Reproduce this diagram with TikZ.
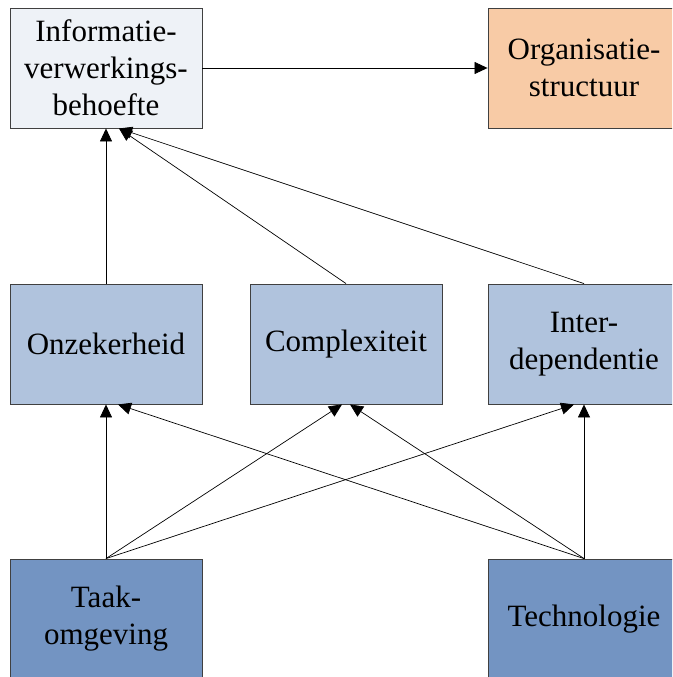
\documentclass[tikz,border=0pt]{standalone}
\usepackage{fontspec}
\setmainfont{Liberation Serif}
\usetikzlibrary{arrows.meta,calc}
\definecolor{infofill}{HTML}{EEF2F7}
\definecolor{orgfill}{HTML}{F8CBA6}
\definecolor{midfill}{HTML}{B0C3DD}
\definecolor{basefill}{HTML}{7394C2}
\definecolor{boxdraw}{HTML}{404040}
\tikzset{
  >={Triangle[length=13pt,width=12pt]},
  factorbox/.style={
    draw=boxdraw,
    line width=0.9pt,
    fill=white,
    align=center,
    minimum width=192pt,
    minimum height=120pt,
    inner sep=0pt,
    font=\fontsize{31}{37}\selectfont,
  },
  infobox/.style={factorbox, fill=infofill},
  orgbox/.style={factorbox, fill=orgfill},
  midbox/.style={factorbox, fill=midfill},
  basebox/.style={factorbox, fill=basefill},
  link/.style={->, line width=0.7pt, black},
}

\begin{document}
\begin{tikzpicture}[x=1pt, y=-1pt]
  \useasboundingbox (0,0) rectangle (672,677);
  \clip (0,0) rectangle (672,677);

  \node[infobox] (info) at (106, 68) {Informatie-\\verwerkings-\\behoefte};
  \node[orgbox] (org) at (584, 68) {Organisatie-\\structuur};
  \node[midbox] (onz) at (106, 344) {Onzekerheid};
  \node[midbox] (comp) at (346, 344) {Complexiteit};
  \node[midbox] (inter) at (584, 344) {Inter-\\dependentie};
  \node[basebox] (taak) at (106, 619) {Taak-\\omgeving};
  \node[basebox] (tech) at (584, 619) {Technologie};

  \coordinate (infoin) at ($(info.south)+(13,0)$);

  \draw[link] (info) -- (org);
  \draw[link] (onz) -- (info);
  \draw[link] (comp.north) -- (infoin);
  \draw[link] (inter.north) -- (infoin);

  \draw[link] (taak.north) -- (onz.south);
  \draw[link] (taak.north) -- ($(comp.south)+(-4,0)$);
  \draw[link] (taak.north) -- ($(inter.south)+(-10,0)$);
  \draw[link] (tech.north) -- (inter.south);
  \draw[link] (tech.north) -- ($(comp.south)+(4,0)$);
  \draw[link] (tech.north) -- ($(onz.south)+(12,0)$);
\end{tikzpicture}
\end{document}
